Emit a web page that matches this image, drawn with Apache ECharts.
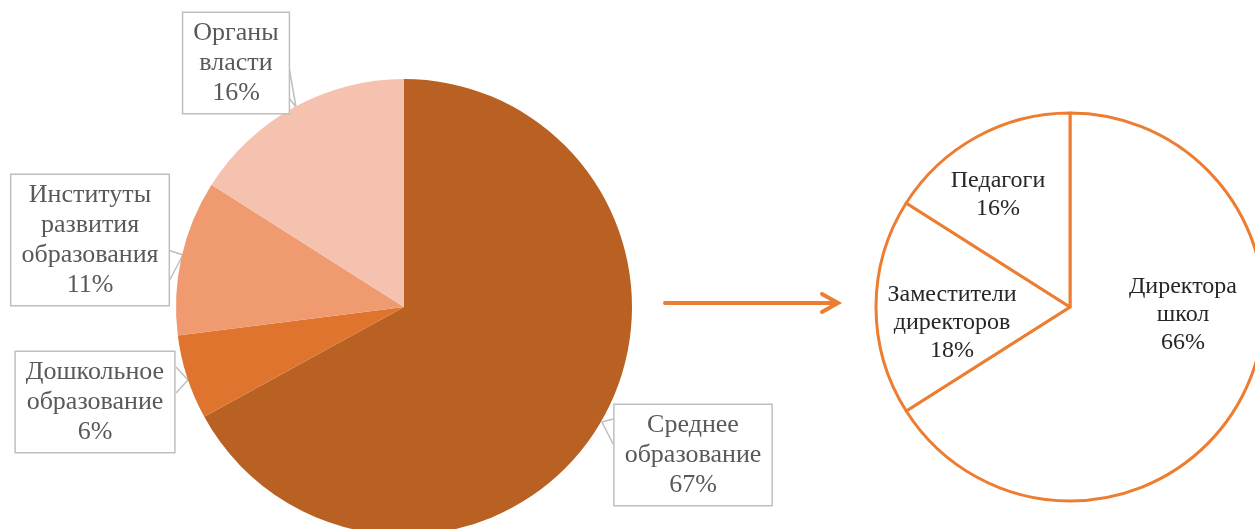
<!DOCTYPE html>
<html>
<head>
<meta charset="utf-8">
<script src="https://cdn.jsdelivr.net/npm/echarts@6/dist/echarts.min.js"></script>
<style>
html,body{margin:0;padding:0;background:#fff;}
#c{width:1255px;height:529px;}
</style>
</head>
<body>
<div id="c"></div>
<script>
// Left pie: sectors of employment
const leftNames = ['Среднее\nобразование', 'Дошкольное\nобразование', 'Институты\nразвития\nобразования', 'Органы\nвласти'];
const leftValues = [67, 6, 11, 16];
// Right pie: breakdown of secondary education
const rightNames = ['Директора\nшкол', 'Заместители\nдиректоров', 'Педагоги'];
const rightValues = [66, 18, 16];

const leftColors = ['#B96122', '#DF742E', '#F09A6F', '#F5C2B0'];
// label box centres and callout outlines (layout, not data)
const leftLabelPos = [[693, 455], [95, 402], [90, 240], [236, 63]];
const leftCallouts = [
  [[613, 419], [602, 422], [613, 444]],
  [[176, 367], [188, 380], [176, 393]],
  [[168, 250], [183, 255], [168, 283]],
  [[289, 67], [296, 107], [289, 98]]
];
const rightLabelPos = [[1183, 315], [952, 323], [998, 195]];

const chart = echarts.init(document.getElementById('c'));
const serif = '"Times New Roman", "Liberation Serif", serif';

chart.setOption({
  animation: false,
  series: [
    {
      type: 'pie',
      center: [404, 307],
      radius: 228,
      startAngle: 90,
      clockwise: true,
      avoidLabelOverlap: false,
      data: leftNames.map((n, i) => ({ name: n, value: leftValues[i], itemStyle: { color: leftColors[i] } })),
      itemStyle: { borderWidth: 0 },
      label: {
        show: true,
        position: 'outside',
        formatter: p => p.name + '\n' + p.value + '%',
        fontFamily: serif,
        fontSize: 26,
        lineHeight: 30,
        color: '#595959',
        align: 'center',
        backgroundColor: '#fff',
        borderColor: '#BFBFBF',
        borderWidth: 1.5,
        padding: [5, 10, 5, 10]
      },
      labelLine: {
        show: true,
        length: 5,
        length2: 4,
        lineStyle: { color: '#BFBFBF', width: 1.5 }
      },
      labelLayout: p => ({
        x: leftLabelPos[p.dataIndex][0],
        y: leftLabelPos[p.dataIndex][1],
        align: 'center',
        verticalAlign: 'middle',
        labelLinePoints: leftCallouts[p.dataIndex]
      })
    },
    {
      type: 'pie',
      center: [1070, 307],
      radius: 194,
      startAngle: 90,
      clockwise: true,
      avoidLabelOverlap: false,
      data: rightNames.map((n, i) => ({ name: n, value: rightValues[i] })),
      itemStyle: { color: '#fff', borderColor: '#ED7D31', borderWidth: 3 },
      label: {
        show: true,
        position: 'inside',
        formatter: p => p.name + '\n' + p.value + '%',
        fontFamily: serif,
        fontSize: 24,
        lineHeight: 28,
        color: '#262626',
        align: 'center'
      },
      labelLine: { show: false },
      labelLayout: p => ({
        x: rightLabelPos[p.dataIndex][0],
        y: rightLabelPos[p.dataIndex][1],
        align: 'center',
        verticalAlign: 'middle'
      })
    }
  ],
  graphic: [
    {
      type: 'polyline',
      shape: { points: [[665, 303], [836, 303]] },
      style: { stroke: '#ED7D31', lineWidth: 4, lineCap: 'round' }
    },
    {
      type: 'polyline',
      shape: { points: [[822, 294], [838, 303], [822, 312]] },
      style: { stroke: '#ED7D31', lineWidth: 4, lineCap: 'round', lineJoin: 'miter', fill: null }
    }
  ]
});
</script>
</body>
</html>
